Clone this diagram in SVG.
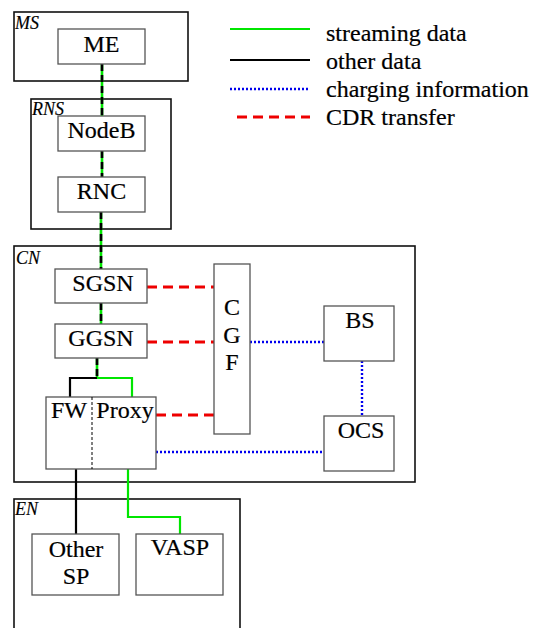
<svg xmlns="http://www.w3.org/2000/svg" width="534" height="628" viewBox="0 0 534 628">
  <style>
    .domain { fill: none; stroke: #111; stroke-width: 1.6; }
    .box { fill: #fff; stroke: #555; stroke-width: 1.3; }
    .lbl { font-family: 'Liberation Serif', 'DejaVu Serif', serif; font-size: 24px; fill: #000; stroke: #000; stroke-width: 0.2; }
    .dom { font-family: 'Liberation Serif', 'DejaVu Serif', serif; font-size: 18px; font-style: italic; fill: #000; stroke: #000; stroke-width: 0.15; }
    .stream { fill: none; stroke: #00e600; stroke-width: 2.2; }
    .other { fill: none; stroke: #000; stroke-width: 2.2; }
    .charge { fill: none; stroke: #0000ee; stroke-width: 2.4; stroke-dasharray: 2 2; }
    .cdr { fill: none; stroke: #ee0000; stroke-width: 3; stroke-dasharray: 10 6; }
    .mixg { fill: none; stroke: #00e600; stroke-width: 2.6; }
    .mixk { fill: none; stroke: #000; stroke-width: 2.6; stroke-dasharray: 7 4; }
  </style>

  <!-- domain frames -->
  <g id="MS">
    <rect class="domain" x="14" y="12" width="174" height="69"/>
    <text class="dom" x="15" y="29">MS</text>
  </g>
  <g id="RNS">
    <rect class="domain" x="31" y="99" width="140" height="130"/>
    <text class="dom" x="32" y="115">RNS</text>
  </g>
  <g id="CN">
    <rect class="domain" x="14" y="246" width="401" height="236"/>
    <text class="dom" x="16" y="264">CN</text>
  </g>
  <g id="EN">
    <rect class="domain" x="14" y="499" width="226" height="145"/>
    <text class="dom" x="15" y="515">EN</text>
  </g>

  <!-- connectors -->
  <g id="connectors">
    <!-- access path carrying both streaming and other data -->
    <path class="mixg" d="M102 64V116M102 151V177M101 212V269M101 303V324M97 358V378"/>
    <path class="mixk" d="M102 64V116M102 151V177M101 212V269M101 303V324M97 358V378"/>
    <!-- split towards firewall (other data) and proxy (streaming) -->
    <path class="other" d="M97 378H70V397"/>
    <path class="stream" d="M97 378H132V397"/>
    <path class="other" d="M76 469V534"/>
    <path class="stream" d="M128 469V517H180V534"/>
    <!-- CDR transfer to CGF -->
    <path class="cdr" d="M147 287H214"/>
    <path class="cdr" d="M147 342H214"/>
    <path class="cdr" d="M156 415H214"/>
    <!-- charging information -->
    <path class="charge" d="M250 342H324"/>
    <path class="charge" d="M362 361V416"/>
    <path class="charge" d="M156 452H324"/>
  </g>

  <!-- nodes -->
  <g id="ME">
    <rect class="box" x="58" y="29" width="87" height="35"/>
    <text class="lbl" x="101.5" y="52" text-anchor="middle">ME</text>
  </g>
  <g id="NodeB">
    <rect class="box" x="58" y="116" width="87" height="35"/>
    <text class="lbl" x="101.5" y="138" text-anchor="middle">NodeB</text>
  </g>
  <g id="RNC">
    <rect class="box" x="58" y="177" width="87" height="35"/>
    <text class="lbl" x="101.5" y="199" text-anchor="middle">RNC</text>
  </g>
  <g id="SGSN">
    <rect class="box" x="55" y="269" width="92" height="34"/>
    <text class="lbl" x="103" y="291" text-anchor="middle">SGSN</text>
  </g>
  <g id="GGSN">
    <rect class="box" x="55" y="324" width="92" height="34"/>
    <text class="lbl" x="101" y="346" text-anchor="middle">GGSN</text>
  </g>
  <g id="FW-Proxy">
    <rect class="box" x="46" y="397" width="110" height="72"/>
    <line x1="92" y1="397" x2="92" y2="469" stroke="#000" stroke-width="1" stroke-dasharray="3 2"/>
    <text class="lbl" x="69" y="418" text-anchor="middle">FW</text>
    <text class="lbl" x="125" y="418" text-anchor="middle">Proxy</text>
  </g>
  <g id="CGF">
    <rect class="box" x="214" y="264" width="36" height="170"/>
    <text class="lbl" x="232" y="315" text-anchor="middle">C</text>
    <text class="lbl" x="232" y="343" text-anchor="middle">G</text>
    <text class="lbl" x="232" y="370" text-anchor="middle">F</text>
  </g>
  <g id="BS">
    <rect class="box" x="324" y="306" width="70" height="55"/>
    <text class="lbl" x="360" y="328" text-anchor="middle">BS</text>
  </g>
  <g id="OCS">
    <rect class="box" x="324" y="416" width="70" height="55"/>
    <text class="lbl" x="361" y="438" text-anchor="middle">OCS</text>
  </g>
  <g id="OtherSP">
    <rect class="box" x="32" y="534" width="87" height="61"/>
    <text class="lbl" x="76" y="557" text-anchor="middle">Other</text>
    <text class="lbl" x="76" y="584" text-anchor="middle">SP</text>
  </g>
  <g id="VASP">
    <rect class="box" x="136" y="534" width="87" height="61"/>
    <text class="lbl" x="180" y="555" text-anchor="middle">VASP</text>
  </g>

  <!-- legend -->
  <g id="legend">
    <line class="stream" x1="230" y1="29" x2="310" y2="29"/>
    <line class="other" x1="230" y1="60" x2="310" y2="60"/>
    <line class="charge" x1="230" y1="89" x2="310" y2="89"/>
    <line class="cdr" x1="237" y1="117" x2="310" y2="117"/>
    <text class="lbl" x="326" y="41">streaming data</text>
    <text class="lbl" x="326" y="69">other data</text>
    <text class="lbl" x="326" y="97">charging information</text>
    <text class="lbl" x="326" y="125">CDR transfer</text>
  </g>
</svg>
